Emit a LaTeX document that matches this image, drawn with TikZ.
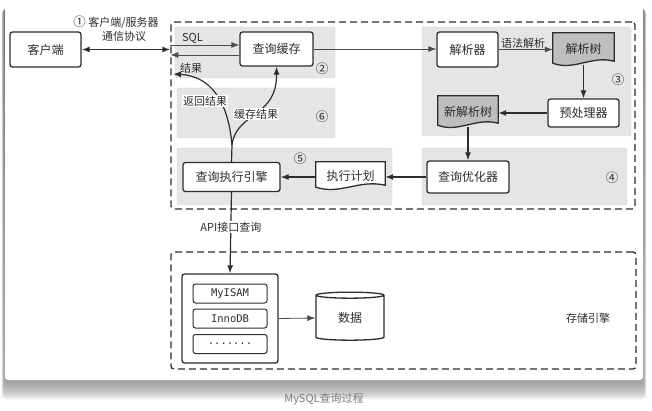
\documentclass[tikz,border=0pt]{standalone}
\usepackage{fontspec}
\setmainfont{Noto Sans CJK SC}
\setmonofont{DejaVu Sans Mono}
\usetikzlibrary{arrows.meta, positioning, calc, shapes.geometric}
\definecolor{ink}{RGB}{45,45,45}
\definecolor{zone}{RGB}{229,229,229}
\definecolor{zoneline}{RGB}{160,160,160}
\definecolor{docdark}{RGB}{190,190,190}
\definecolor{shade}{RGB}{100,132,140}
\definecolor{capgray}{RGB}{125,125,125}
\pgfdeclarelayer{back}
\pgfdeclarelayer{docs}
\pgfsetlayers{back,docs,main}
\newcommand\dotrow{.......}

\begin{document}
\begin{tikzpicture}[x=1pt, y=-1pt, font=\fontsize{12}{13}\selectfont, text=ink,
  proc/.style={draw=ink, line width=1.3pt, rounded corners=2.5pt, fill=white, inner sep=0pt},
  docnode/.style={inner sep=0pt},
  zonebox/.style={fill=zone, draw=zoneline, densely dotted, rounded corners=2pt},
  frame/.style={draw=ink, line width=1.3pt, dash pattern=on 7pt off 4pt, rounded corners=3pt, inner sep=0pt},
  arr/.style={-{Latex[length=8pt,width=6pt]}, line width=1.2pt, draw=ink},
  thinarr/.style={-{Latex[length=8pt,width=6pt]}, draw=ink!85, line width=0.8pt},
  lbl/.style={font=\fontsize{11}{12}\selectfont, inner sep=1pt},
  num/.style={font=\fontsize{12.5}{12}\selectfont}]
  \useasboundingbox (0,0) rectangle (652,411);

  % card and shadow
  \begin{pgfonlayer}{back}
    \fill[white] (0,0) rectangle (652,411);
    \foreach \s in {1,...,8}
      \fill[shade, opacity=0.08, rounded corners=4pt] (5-0.4*\s,5+0.6*\s) rectangle (643+0.4*\s,380+2.4*\s);
    \fill[white, rounded corners=3pt] (5,5) rectangle (643,380);
    % zones
    \draw[zonebox] (175,27) rectangle (335,78);
    \draw[zonebox] (177,88) rectangle (335,138);
    \draw[zonebox] (422,27) rectangle (631,136);
    \draw[zonebox] (422,148) rectangle (627,205);
    \draw[zonebox] (177,148) rectangle (392,205);
  \end{pgfonlayer}

  % frames
  \node[frame, minimum width=464, minimum height=187] (server) at (403,115.5) {};
  \node[frame, minimum width=465, minimum height=117] (store) at (403.5,310.5) {};

  % boxes
  \node[proc, minimum width=71, minimum height=35] (client) at (45.5,49.5) {客户端};
  \node[proc, minimum width=73, minimum height=34] (cache) at (276.5,49) {查询缓存};
  \node[proc, minimum width=61, minimum height=35] (parser) at (467.5,49.5) {解析器};
  \node[docnode, minimum width=61, minimum height=32] (ptree) at (583.5,49) {解析树};
  \node[proc, minimum width=71, minimum height=28] (prep) at (583.5,113) {预处理器};
  \node[docnode, minimum width=60, minimum height=31] (nptree) at (468,111.5) {新解析树};
  \node[proc, minimum width=82, minimum height=32] (opt) at (468,177) {查询优化器};
  \node[docnode, minimum width=69, minimum height=27] (plan) at (350.5,175.5) {执行计划};
  \node[proc, minimum width=97, minimum height=29] (exec) at (231.5,177) {查询执行引擎};

  % document outlines
  \begin{pgfonlayer}{docs}
    \foreach \n/\c in {ptree/docdark, nptree/docdark, plan/white}
      \draw[ink, line width=1.3pt, fill=\c] (\n.north west) -- (\n.north east) -- ([yshift=4pt]\n.south east)
        .. controls ($(\n.south)+(8pt,10pt)$) and ($(\n.south)+(-10pt,-6pt)$) .. ([yshift=2pt]\n.south west) -- cycle;
  \end{pgfonlayer}

  % storage engines
  \node[proc, minimum width=96, minimum height=89] (eng) at (230,318.5) {};
  \foreach \nm/\y/\t in {myisam/293.5/MyISAM, innodb/318.5/InnoDB, more/344/\dotrow}
    \node[proc, line width=1pt, minimum width=74, minimum height=19, font=\ttfamily\fontsize{10.5}{12}\selectfont] (\nm) at (230,\y) {\t};
  \node[cylinder, shape border rotate=90, draw=ink, line width=1.3pt, fill=white, aspect=0.25,
        minimum width=68, minimum height=48, inner sep=0pt] (data) at (350,318) {数据};

  % labels
  \node[lbl] at (116,22) {\fontsize{12.5}{12}\selectfont ①\fontsize{11}{12}\selectfont\ 客户端/服务器};
  \node[lbl] at (124,36) {通信协议};
  \node[num] at (322,69) {②};
  \node[num] at (618,80) {③};
  \node[num] at (612,178) {④};
  \node[num] at (300,159) {⑤};
  \node[num] at (322,117) {⑥};
  \node[lbl] at (588,318) {存储引擎};
  \node[font=\fontsize{11}{12}\selectfont, text=capgray] at (324,399) {MySQL查询过程};

  % connectors
  \draw[{Latex[length=8pt,width=6pt]}-{Latex[length=8pt,width=6pt]}, line width=1.3pt, ink] (client.east) -- (client.east -| server.west);
  \coordinate (sqlA) at ([yshift=4pt]cache.west);
  \coordinate (resB) at ([yshift=-6pt]cache.west);
  \draw[thinarr] (server.west |- sqlA) -- node[lbl, above, pos=0.32] {SQL} (sqlA);
  \draw[thinarr] (resB) -- (server.west |- resB);
  \node[lbl] at (191,68) {结果};
  \draw[thinarr] (cache.east) -- (cache.east -| parser.west);
  \draw[thinarr] (parser.east) -- node[lbl, above, pos=0.45] {语法解析} (parser.east -| ptree.west);
  \draw[arr] (ptree.south) -- (prep.north);
  \draw[arr] (prep.west) -- (prep.west -| nptree.east);
  \draw[arr] (nptree.south) -- (opt.north);
  \draw[arr] (opt.west) -- (opt.west -| plan.east);
  \draw[arr] (plan.west |- exec.east) -- (exec.east);
  \coordinate (split) at (232,145);
  \coordinate (retpt) at (173,74);
  \draw[line width=1.2pt, ink] (exec.north) -- (split);
  \draw[arr] (split) .. controls (228,100) and (210,76) .. (retpt);
  \draw[arr] (split) .. controls (236,112) and (277,118) .. (cache.south);
  \node[lbl, fill=white] at (205,101) {返回结果};
  \node[lbl, fill=white] at (256,114) {缓存结果};
  \draw[arr] (exec.south) -- node[lbl, fill=white, pos=0.43] {API接口查询} (eng.north);
  \draw[thinarr] (eng.east) -- (data.west);
\end{tikzpicture}
\end{document}
